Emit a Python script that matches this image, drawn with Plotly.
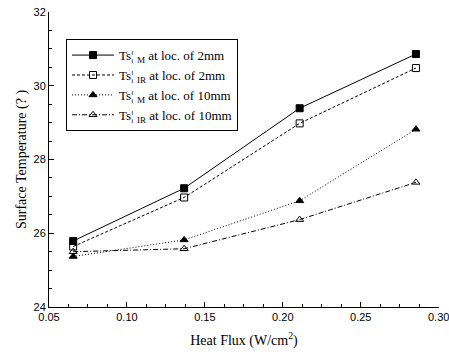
import plotly.graph_objects as go

heat_flux = [0.0655, 0.1367, 0.2108, 0.2854]
ts_m_2mm = [25.79, 27.22, 29.39, 30.86]
ts_ir_2mm = [25.64, 26.97, 28.98, 30.48]
ts_m_10mm = [25.37, 25.82, 26.88, 28.82]
ts_ir_10mm = [25.50, 25.58, 26.37, 27.38]

x_ticks = [0.05, 0.10, 0.15, 0.20, 0.25, 0.30]
x_tick_labels = ["0.05", "0.10", "0.15", "0.20", "0.25", "0.30"]
y_ticks = [24, 26, 28, 30, 32]

series_names = [
    "Ts¦ <sub>M</sub> at loc. of 2mm",
    "Ts¦ <sub>IR</sub> at loc. of 2mm",
    "Ts¦ <sub>M</sub> at loc. of 10mm",
    "Ts¦ <sub>IR</sub> at loc. of 10mm",
]
series_values = [ts_m_2mm, ts_ir_2mm, ts_m_10mm, ts_ir_10mm]
dashes = ["solid", "3px,2px", "1px,2px", "5px,2px,1px,2px"]
symbols = ["square", "square-open", "triangle-up", "triangle-up-open"]

fig = go.Figure()
for name, vals, dash, sym in zip(series_names, series_values, dashes, symbols):
    fig.add_trace(go.Scatter(
        x=heat_flux, y=vals, name=name, mode="lines+markers",
        line=dict(color="black", width=1, dash=dash),
        marker=dict(symbol=sym, size=7, color="black", line=dict(color="black", width=1)),
    ))

serif = "Liberation Serif"
sans = "Liberation Sans"

fig.update_layout(
    width=449, height=359,
    margin=dict(l=49, r=10, t=12, b=52, autoexpand=False),
    paper_bgcolor="white", plot_bgcolor="white",
    showlegend=True,
    legend=dict(
        x=0.0436, y=0.908, xanchor="left", yanchor="top",
        bordercolor="black", borderwidth=1, bgcolor="white",
        font=dict(family=serif, size=13, color="black"),
        tracegroupgap=0, itemwidth=42,
    ),
    xaxis=dict(
        range=[0.05, 0.3002], tickvals=x_ticks, ticktext=x_tick_labels,
        showline=True, linecolor="black", linewidth=1, mirror=False,
        showgrid=False, zeroline=False, automargin=False,
        ticks="inside", ticklen=5, tickcolor="black", ticklabeloverflow="allow",
        minor=dict(dtick=0.0125, tick0=0.05, ticks="inside", ticklen=3, tickcolor="black", showgrid=False),
        tickfont=dict(family=sans, size=11, color="black"),
        title=dict(text="Heat Flux (W/cm<sup>2</sup>)", font=dict(family=serif, size=14, color="black"), standoff=12),
    ),
    yaxis=dict(
        range=[24, 32], tickvals=y_ticks,
        showline=True, linecolor="black", linewidth=1, mirror=False,
        showgrid=False, zeroline=False, automargin=False,
        ticks="inside", ticklen=5, tickcolor="black", ticklabeloverflow="allow",
        minor=dict(dtick=0.5, tick0=24, ticks="inside", ticklen=3, tickcolor="black", showgrid=False),
        tickfont=dict(family=sans, size=11, color="black"),
        title=dict(text="Surface Temperature (? )", font=dict(family=serif, size=14, color="black"), standoff=3),
    ),
)

# remove the browser's default 8px body margin so the figure sits at the page origin
fig.write_html(
    "out.html",
    config={"displayModeBar": False},
    post_script="document.body.style.margin='0';",
)
